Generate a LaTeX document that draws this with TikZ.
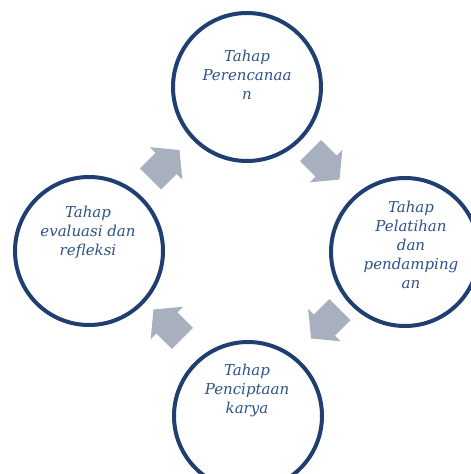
\documentclass[tikz,border=0pt]{standalone}
\usepackage{fontspec}
\setmainfont{DejaVu Serif}
\definecolor{ringblue}{RGB}{31,63,112}
\definecolor{txtblue}{RGB}{46,82,138}
\definecolor{arrgray}{RGB}{168,176,192}
\tikzset{
  stage/.style={circle, draw=ringblue, line width=4pt, minimum size=148pt, inner sep=0pt, fill=white},
  stagetext/.style={text=txtblue, font=\fontsize{15}{19}\selectfont\itshape, align=center, inner sep=0pt},
  blockarrow/.style={fill=arrgray}
}
\begin{document}
\begin{tikzpicture}[x=1pt,y=-1pt]
\useasboundingbox (0,0) rectangle (471,474);
% circles
\node[stage] (top) at (247,87) {};
\node[stage] (right) at (405,252) {};
\node[stage] (bottom) at (248,416) {};
\node[stage] (left) at (89,251) {};
% texts
\node[stagetext] (ttop) at (247,75) {Tahap\\Perencanaa\\n};
\node[stagetext] (tright) at (411,245) {Tahap\\Pelatihan\\dan\\pendamping\\an};
\node[stagetext] (tbottom) at (247,390) {Tahap\\Penciptaan\\karya};
\node[stagetext] (tleft) at (88,232) {Tahap\\evaluasi dan\\refleksi};
% arrows
\foreach \cx/\cy/\ang [count=\i] in {165/164.5/45, 325/165/-45, 325.5/324/-135, 168/324/135}{
  \fill[blockarrow, shift={(\cx,\cy)}, rotate=\ang]
    (-20.5,-15) -- (1.5,-15) -- (1.5,-23) -- (20.5,0) -- (1.5,23) -- (1.5,15) -- (-20.5,15) -- cycle;
}
\end{tikzpicture}
\end{document}
